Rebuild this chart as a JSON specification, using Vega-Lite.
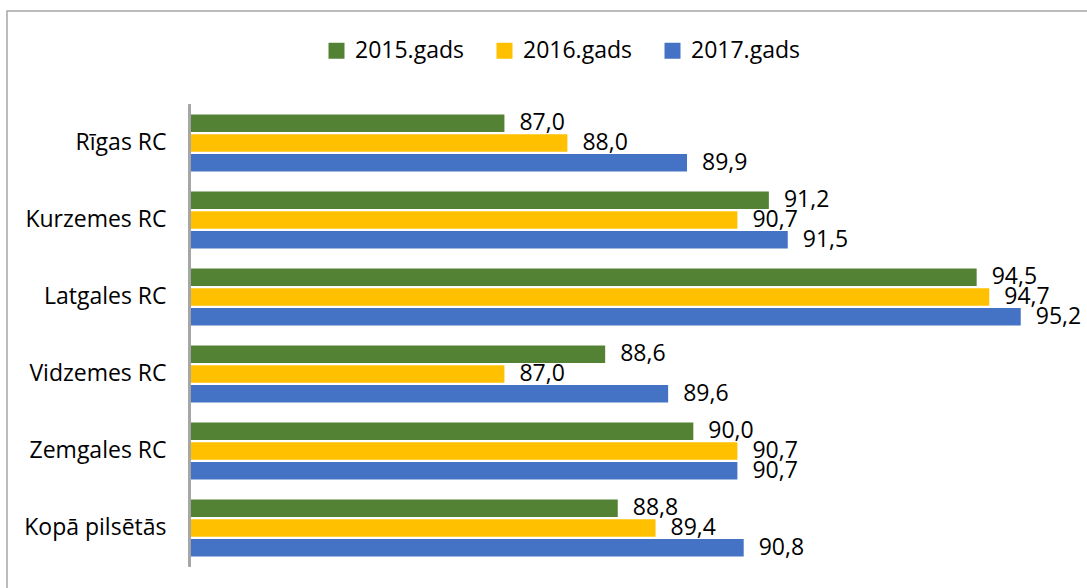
{
  "$schema": "https://vega.github.io/schema/vega-lite/v6.json",
  "width": 1083,
  "height": 580,
  "autosize": {"type": "none"},
  "padding": {"left": 7, "top": 11, "right": -3, "bottom": -3},
  "background": "white",
  "config": {
    "view": {"stroke": "#A6A6A6", "strokeWidth": 1.5},
    "axis": {"grid": false},
    "locale": {"number": {"decimal": ",", "thousands": " ", "grouping": [3], "currency": ["", " €"]}}
  },
  "data": {
    "values": [
      {"region": "Rīgas RC", "year": "2015.gads", "value": 87.0},
      {"region": "Rīgas RC", "year": "2016.gads", "value": 88.0},
      {"region": "Rīgas RC", "year": "2017.gads", "value": 89.9},
      {"region": "Kurzemes RC", "year": "2015.gads", "value": 91.2},
      {"region": "Kurzemes RC", "year": "2016.gads", "value": 90.7},
      {"region": "Kurzemes RC", "year": "2017.gads", "value": 91.5},
      {"region": "Latgales RC", "year": "2015.gads", "value": 94.5},
      {"region": "Latgales RC", "year": "2016.gads", "value": 94.7},
      {"region": "Latgales RC", "year": "2017.gads", "value": 95.2},
      {"region": "Vidzemes RC", "year": "2015.gads", "value": 88.6},
      {"region": "Vidzemes RC", "year": "2016.gads", "value": 87.0},
      {"region": "Vidzemes RC", "year": "2017.gads", "value": 89.6},
      {"region": "Zemgales RC", "year": "2015.gads", "value": 90.0},
      {"region": "Zemgales RC", "year": "2016.gads", "value": 90.7},
      {"region": "Zemgales RC", "year": "2017.gads", "value": 90.7},
      {"region": "Kopā pilsētās", "year": "2015.gads", "value": 88.8},
      {"region": "Kopā pilsētās", "year": "2016.gads", "value": 89.4},
      {"region": "Kopā pilsētās", "year": "2017.gads", "value": 90.8}
    ]
  },
  "layer": [
    {
      "mark": {"type": "bar"},
      "encoding": {
        "y": {
          "field": "region", "type": "nominal", "sort": null,
          "scale": {"paddingInner": 0.2597, "paddingOuter": 0.8961, "align": 0.75, "round": false},
          "axis": {"title": null, "ticks": false, "tickSize": 0, "domain": false, "offset": -185, "labelPadding": 26,
                   "labelFont": "Open Sans", "labelFontSize": 23, "labelColor": "#000000"}
        },
        "yOffset": {"field": "year", "type": "nominal", "sort": null, "scale": {"paddingInner": 0.12, "paddingOuter": 0}},
        "x": {"field": "value", "type": "quantitative", "scale": {"domain": [79.1, 96.3], "zero": false, "nice": false}, "axis": null},
        "x2": {"datum": 82},
        "color": {
          "field": "year", "type": "nominal", "sort": null,
          "scale": {"range": ["#548235", "#FFC000", "#4472C4"]},
          "legend": {"title": null, "orient": "none", "direction": "horizontal", "legendX": 318, "legendY": 28,
                     "symbolType": "square", "symbolSize": 256, "symbolStrokeWidth": 0, "symbolOpacity": 1,
                     "labelFont": "Open Sans", "labelFontSize": 23, "labelColor": "#000000", "labelOffset": 7,
                     "columnPadding": 29, "padding": 0}
        }
      }
    },
    {
      "mark": {"type": "text", "align": "left", "baseline": "middle", "dx": 15, "font": "Open Sans", "fontSize": 23, "color": "#000000"},
      "encoding": {
        "y": {"field": "region", "type": "nominal", "sort": null},
        "yOffset": {"field": "year", "type": "nominal", "sort": null},
        "x": {"field": "value", "type": "quantitative"},
        "text": {"field": "value", "type": "quantitative", "format": ".1f"}
      }
    },
    {
      "mark": {"type": "rule", "color": "#A6A6A6", "strokeWidth": 1.5},
      "encoding": {
        "x": {"datum": 82},
        "y": {"datum": "Rīgas RC", "bandPosition": -0.1754},
        "y2": {"datum": "Kopā pilsētās", "bandPosition": 1.1754}
      }
    }
  ]
}
